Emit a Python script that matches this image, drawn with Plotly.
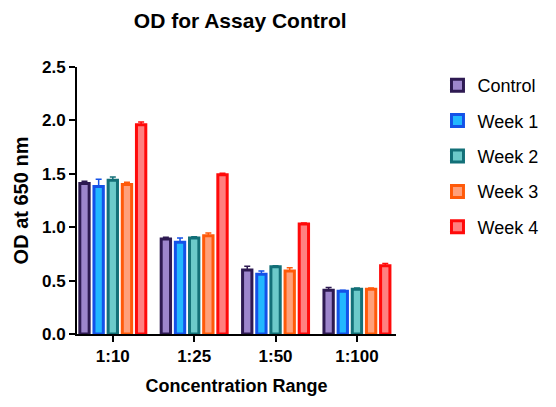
import plotly.graph_objects as go

categories = ["1:10", "1:25", "1:50", "1:100"]
series_names = ["Control", "Week 1", "Week 2", "Week 3", "Week 4"]
control = [1.41, 0.89, 0.60, 0.41]
week1 = [1.38, 0.86, 0.56, 0.40]
week2 = [1.44, 0.90, 0.63, 0.42]
week3 = [1.40, 0.92, 0.59, 0.42]
week4 = [1.96, 1.49, 1.03, 0.64]
control_err = [0.02, 0.015, 0.035, 0.025]
week1_err = [0.07, 0.04, 0.03, 0.01]
week2_err = [0.03, 0.01, 0.01, 0.01]
week3_err = [0.02, 0.025, 0.03, 0.01]
week4_err = [0.025, 0.015, 0.01, 0.02]

values = [control, week1, week2, week3, week4]
errors = [control_err, week1_err, week2_err, week3_err, week4_err]
fills = ["#9d85cc", "#22b8ff", "#6ccaca", "#ffa07a", "#ff8080"]
borders = ["#2e1a52", "#1452e8", "#137078", "#ff5a0a", "#ff0a0a"]

FONT = "Liberation Sans, Arial, sans-serif"

fig = go.Figure()
for name, v, e, fc, bc in zip(series_names, values, errors, fills, borders):
    fig.add_trace(go.Bar(
        name=name, x=categories, y=v,
        marker=dict(color=fc, line=dict(color=bc, width=3)),
        error_y=dict(type="data", array=e, arrayminus=[0] * len(e), symmetric=False,
                     color=bc, thickness=1.5, width=3),
        legendgroup=name,
    ))

fig.update_layout(
    width=556, height=407,
    margin=dict(l=77, r=154, t=67, b=73),
    paper_bgcolor="white", plot_bgcolor="white",
    barmode="group", bargap=0.13, bargroupgap=0.34,
    font=dict(family=FONT, color="black"),
    title=dict(text="<b>OD for Assay Control</b>", x=0.432, xanchor="center",
               y=0.95, yanchor="middle", font=dict(size=21, family=FONT)),
    legend=dict(x=1.13, y=1.0, xanchor="left", yanchor="top",
                font=dict(size=18, family=FONT), tracegroupgap=9,
                itemwidth=30, bgcolor="rgba(0,0,0,0)"),
    showlegend=True,
)
fig.update_xaxes(
    range=[-0.44, 3.48], showline=True, linecolor="black", linewidth=2,
    ticks="outside", ticklen=6, tickwidth=2, tickcolor="black",
    tickfont=dict(size=17, family=FONT, weight="bold"),
    title=dict(text="<b>Concentration Range</b>", font=dict(size=18, family=FONT), standoff=14),
    showgrid=False, zeroline=False,
)
fig.update_yaxes(
    range=[0, 2.5], tickvals=[0, 0.5, 1.0, 1.5, 2.0, 2.5],
    ticktext=["0.0", "0.5", "1.0", "1.5", "2.0", "2.5"],
    showline=True, linecolor="black", linewidth=2,
    ticks="outside", ticklen=6, tickwidth=2, tickcolor="black",
    tickfont=dict(size=17, family=FONT, weight="bold"),
    title=dict(text="<b>OD at 650 nm</b>", font=dict(size=20, family=FONT), standoff=8),
    showgrid=False, zeroline=False,
)

fig.write_html("out.html")
